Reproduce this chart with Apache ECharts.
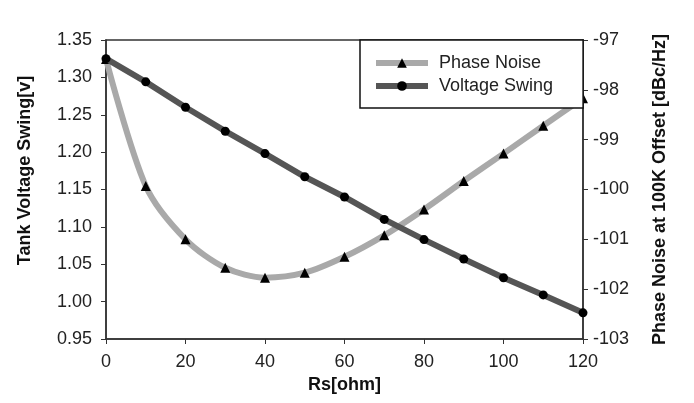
<!DOCTYPE html>
<html>
<head>
<meta charset="utf-8">
<script src="https://cdn.jsdelivr.net/npm/echarts@6/dist/echarts.min.js"></script>
<style>
  html, body { margin: 0; padding: 0; background: #fff; }
  #main { width: 694px; height: 403px; }
</style>
</head>
<body>
<div id="main"></div>
<script>
// Rs values in ohm
var rs = [0, 10, 20, 30, 40, 50, 60, 70, 80, 90, 100, 110, 120];
// tank voltage swing [v], left axis
var voltageSwing = [1.325, 1.294, 1.260, 1.228, 1.198, 1.167, 1.140, 1.110, 1.083, 1.057, 1.032, 1.009, 0.985];
// phase noise at 100K offset [dBc/Hz], right axis
var phaseNoise = [-97.38, -99.93, -101.0, -101.57, -101.77, -101.67, -101.35, -100.92, -100.40, -99.83, -99.28, -98.72, -98.17];

var seriesNames = ["Phase Noise", "Voltage Swing"];

function pairs(xs, ys) {
  var out = [];
  for (var i = 0; i < xs.length; i++) out.push([xs[i], ys[i]]);
  return out;
}

var font = "Arial, 'Liberation Sans', sans-serif";
var axisColor = "#333";

var chart = echarts.init(document.getElementById("main"));
var option = {
  backgroundColor: "#FFFFFF",
  animation: false,
  grid: {
    left: 106, right: 111, top: 40, bottom: 64,
    show: true, borderColor: axisColor, borderWidth: 1.5,
    backgroundColor: "transparent"
  },
  legend: {
    left: 360, top: 40,
    orient: "vertical",
    padding: [14, 30, 13, 13],
    itemWidth: 52, itemHeight: 12, itemGap: 5,
    borderColor: "#111", borderWidth: 1.5,
    backgroundColor: "#fff",
    lineStyle: { width: 6 },
    textStyle: { fontFamily: font, fontSize: 18, color: "#222", padding: [0, 0, 0, 6] },
    data: seriesNames
  },
  xAxis: {
    type: "value", min: 0, max: 120, interval: 20,
    name: "Rs[ohm]", nameLocation: "middle", nameGap: 37,
    nameTextStyle: { fontFamily: font, fontSize: 18, fontWeight: "bold", color: "#111" },
    axisLine: { lineStyle: { color: axisColor, width: 1.5 } },
    axisTick: { show: true, length: 5, lineStyle: { color: axisColor } },
    axisLabel: { fontFamily: font, fontSize: 18, color: "#222", margin: 14 },
    splitLine: { show: false }
  },
  yAxis: [
    {
      type: "value", min: 0.95, max: 1.35, interval: 0.05,
      name: "Tank Voltage Swing[v]", nameLocation: "middle", nameGap: 72,
      nameTextStyle: { fontFamily: font, fontSize: 18, fontWeight: "bold", color: "#111",
        padding: [0, 0, 0, 38] },
      axisLine: { show: true, lineStyle: { color: axisColor, width: 1.5 } },
      axisTick: { show: true, length: 5, lineStyle: { color: axisColor } },
      axisLabel: { fontFamily: font, fontSize: 18, color: "#222", margin: 14,
        formatter: function (v) { return v.toFixed(2); } },
      splitLine: { show: false }
    },
    {
      type: "value", min: -103, max: -97, interval: 1, position: "right",
      name: "Phase Noise at 100K Offset [dBc/Hz]", nameLocation: "middle", nameGap: 68,
      nameTextStyle: { fontFamily: font, fontSize: 18, fontWeight: "bold", color: "#111" },
      axisLine: { show: true, lineStyle: { color: axisColor, width: 1.5 } },
      axisTick: { show: true, length: 5, lineStyle: { color: axisColor } },
      axisLabel: { fontFamily: font, fontSize: 18, color: "#222", margin: 10 },
      splitLine: { show: false }
    }
  ],
  series: [
    {
      name: seriesNames[0], type: "line", yAxisIndex: 1,
      data: pairs(rs, phaseNoise),
      smooth: 0.3,
      symbol: "triangle", symbolSize: 10,
      lineStyle: { color: "#a9a9a9", width: 6 },
      itemStyle: { color: "#000" },
      clip: false, z: 2
    },
    {
      name: seriesNames[1], type: "line", yAxisIndex: 0,
      data: pairs(rs, voltageSwing),
      symbol: "circle", symbolSize: 9,
      lineStyle: { color: "#555", width: 6 },
      itemStyle: { color: "#000" },
      clip: false, z: 3
    }
  ]
};
chart.setOption(option);
</script>
</body>
</html>
